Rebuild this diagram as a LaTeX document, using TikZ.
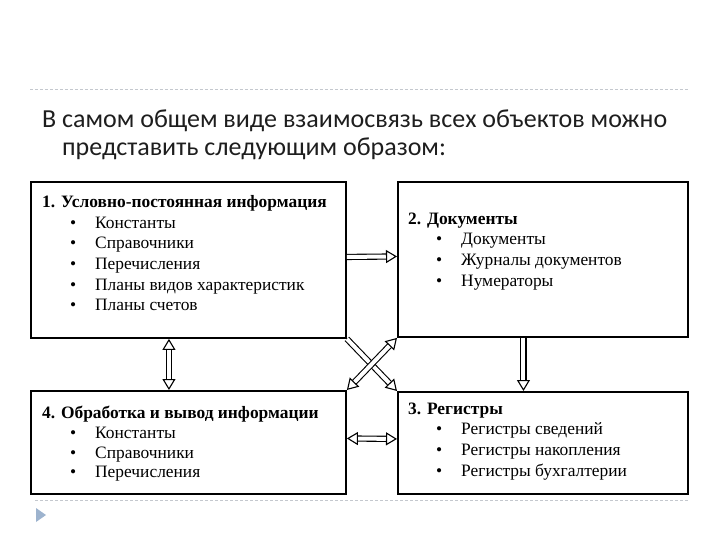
\documentclass[tikz,border=0pt]{standalone}
\usepackage{fontspec}
\setmainfont{Liberation Serif}
\newfontfamily\headfont{Carlito}
\usetikzlibrary{arrows.meta,positioning}

\definecolor{headgray}{HTML}{1E1E1E}
\definecolor{rulegray}{HTML}{C4C8CE}
\definecolor{bullblue}{HTML}{9DB3CE}

\tikzset{
  blk/.style={draw, line width=1.9pt, inner sep=0pt, anchor=north west},
  listtxt/.style={inner sep=0pt, align=left, font=\fontsize{17.4}{20.6}\selectfont},
  hollow/.style={line width=1.1pt, double=white, double distance=4pt},
  hTri/.tip={Triangle[open, length=11pt, width=13pt, line width=1.1pt, fill=white]}
}
\newcommand{\itm}[1]{\hspace*{28pt}\makebox[25pt][l]{\textbullet}#1}

\begin{document}
\begin{tikzpicture}[x=1pt, y=-1pt]
      \useasboundingbox (0,0) rectangle (720,540);
      % slide rules and bullet
      \draw[rulegray, line width=0.8pt, dash pattern=on 3pt off 2pt] (30,89) -- (688,89);
      \draw[rulegray, line width=0.8pt, dash pattern=on 3pt off 2pt] (35,500) -- (688,500);
      \fill[bullblue] (36,508) -- (46,515) -- (36,522) -- cycle;
      % heading
      \node[anchor=north west, inner sep=0pt, align=left, text=headgray,
            font=\headfont\fontsize{26}{28}\selectfont] (head) at (42,109.5)
            {В самом общем виде взаимосвязь всех объектов можно\\
             \hspace*{20pt}представить следующим образом:};
      % boxes
      \node[blk, minimum width=315pt, minimum height=156pt] (b1) at (30,181) {};
      \node[blk, minimum width=290pt, minimum height=155pt] (b2) at (397,181) {};
      \node[blk, minimum width=315pt, minimum height=103pt] (b4) at (30,390) {};
      \node[blk, minimum width=290pt, minimum height=102pt] (b3) at (397,391) {};
      \node[listtxt, below right=14.5pt and 12pt of b1.north west] (t1)
            {\textbf{1. Условно-постоянная информация}\\
             \itm{Константы}\\ \itm{Справочники}\\ \itm{Перечисления}\\
             \itm{Планы видов характеристик}\\ \itm{Планы счетов}};
      \node[listtxt, below right=31.5pt and 11pt of b2.north west] (t2)
            {\textbf{2. Документы}\\
             \itm{Документы}\\ \itm{Журналы документов}\\ \itm{Нумераторы}};
      \node[listtxt, below right=16pt and 12pt of b4.north west,
            font=\fontsize{17.4}{19.7}\selectfont] (t4)
            {\textbf{4. Обработка и вывод информации}\\
             \itm{Константы}\\ \itm{Справочники}\\ \itm{Перечисления}};
      \node[listtxt, below right=11.5pt and 11pt of b3.north west] (t3)
            {\textbf{3. Регистры}\\
             \itm{Регистры сведений}\\ \itm{Регистры накопления}\\ \itm{Регистры бухгалтерии}};
      % arrows
      \draw[hollow, -hTri] ([yshift=3pt]b1.east) -- ([yshift=3pt]b2.west);
      \draw[hollow, hTri-hTri] ([xshift=-19.5pt]b1.south) -- ([xshift=-19.5pt]b4.north);
      \draw[hollow, -hTri] ([xshift=-19.5pt]b2.south) -- ([xshift=-19.5pt]b3.north);
      \draw[hollow, hTri-hTri] ([yshift=4pt]b4.east) -- ([yshift=4pt]b3.west);
      \draw[hollow, -hTri] (b1.south east) -- (b3.north west);
      \draw[hollow, hTri-hTri] (b4.north east) -- (b2.south west);
\end{tikzpicture}
\end{document}
